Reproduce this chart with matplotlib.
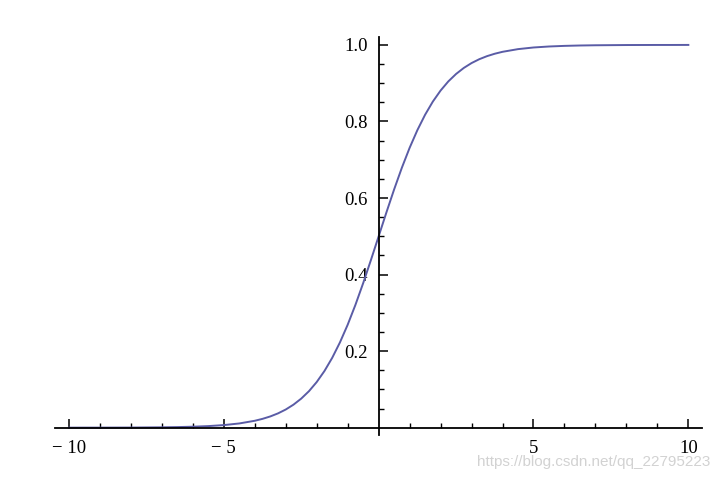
import matplotlib.pyplot as plt
from matplotlib.ticker import FixedLocator

# valeurs
x_vals = [-10.0, -9.5, -9.0, -8.5, -8.0, -7.5, -7.0, -6.5, -6.0, -5.5, -5.0, -4.5,
          -4.0, -3.75, -3.5, -3.25, -3.0, -2.75, -2.5, -2.25, -2.0, -1.75, -1.5, -1.25,
          -1.0, -0.75, -0.5, -0.25, 0.0, 0.25, 0.5, 0.75, 1.0, 1.25, 1.5, 1.75,
          2.0, 2.25, 2.5, 2.75, 3.0, 3.25, 3.5, 3.75, 4.0,
          4.5, 5.0, 5.5, 6.0, 6.5, 7.0, 7.5, 8.0, 8.5, 9.0, 9.5, 10.0]
y_vals = [0.0000, 0.0001, 0.0001, 0.0002, 0.0003, 0.0006, 0.0009, 0.0015, 0.0025, 0.0041, 0.0067, 0.0110,
          0.0180, 0.0230, 0.0293, 0.0373, 0.0474, 0.0601, 0.0759, 0.0953, 0.1192, 0.1480, 0.1824, 0.2227,
          0.2689, 0.3208, 0.3775, 0.4378, 0.5000, 0.5622, 0.6225, 0.6792, 0.7311, 0.7773, 0.8176, 0.8520,
          0.8808, 0.9047, 0.9241, 0.9399, 0.9526, 0.9627, 0.9707, 0.9770, 0.9820,
          0.9890, 0.9933, 0.9959, 0.9975, 0.9985, 0.9991, 0.9994, 0.9997, 0.9998, 0.9999, 0.9999, 1.0000]

x_major = [-10, -5, 5, 10]
x_labels = ["\u2212 10", "\u2212 5", "5", "10"]
x_minor = [-9, -8, -7, -6, -4, -3, -2, -1, 1, 2, 3, 4, 6, 7, 8, 9]
y_major = [0.2, 0.4, 0.6, 0.8, 1.0]
y_labels = ["0.2", "0.4", "0.6", "0.8", "1.0"]
y_minor = [0.05, 0.1, 0.15, 0.25, 0.3, 0.35, 0.45, 0.5, 0.55, 0.65, 0.7, 0.75, 0.85, 0.9, 0.95]

plt.rcParams['font.family'] = ['Liberation Serif', 'DejaVu Serif']

fig = plt.figure(figsize=(7.2, 4.79), dpi=100)
ax = fig.add_axes([0.0764, 0.092, 0.899, 0.831])

ax.plot(x_vals, y_vals, color='#5a5ca6', lw=1.4)

ax.set_xlim(-10.45, 10.45)
ax.set_ylim(-0.019, 1.021)

ax.spines['left'].set_position(('data', 0))
ax.spines['bottom'].set_position(('data', 0))
ax.spines['top'].set_visible(False)
ax.spines['right'].set_visible(False)
for s in ['left', 'bottom']:
  ax.spines[s].set_linewidth(1.3)

ax.set_xticks(x_major)
ax.set_xticklabels(x_labels)
ax.xaxis.set_minor_locator(FixedLocator(x_minor))
ax.set_yticks(y_major)
ax.set_yticklabels(y_labels)
ax.yaxis.set_minor_locator(FixedLocator(y_minor))

ax.tick_params(axis='both', which='major', direction='in', length=6.5, width=1.1, labelsize=13.5)
ax.tick_params(axis='both', which='minor', direction='in', length=3.5, width=1.0)
ax.tick_params(axis='x', which='major', pad=9)
ax.tick_params(axis='y', which='major', pad=8)

fig.text(0.987, 0.036, "https://blog.csdn.net/qq_22795223", ha='right', va='center',
         color='#d2d2d2', fontsize=11, family=['Liberation Sans', 'DejaVu Sans'])

fig.savefig('out.png', dpi=100)
